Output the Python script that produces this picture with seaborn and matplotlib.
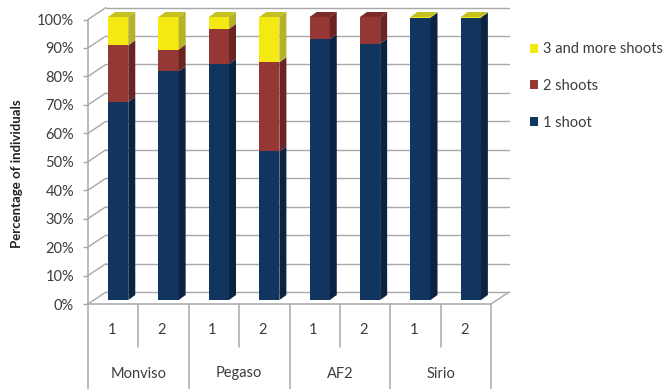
import matplotlib
matplotlib.use("Agg")
import matplotlib.pyplot as plt
from matplotlib.patches import Patch, Polygon
import numpy as np
import pandas as pd
import seaborn as sns

# Share of individuals per tillering class (percent)
varieties = ["Monviso", "Pegaso", "AF2", "Sirio"]
treatments = ["1", "2", "1", "2", "1", "2", "1", "2"]
one_shoot = [70.0, 80.8, 83.4, 52.5, 92.1, 90.6, 99.8, 99.8]
two_shoots = [20.0, 7.7, 12.4, 31.5, 7.9, 9.4, 0.0, 0.0]
three_more = [10.0, 11.5, 4.2, 16.0, 0.0, 0.0, 0.2, 0.2]
series_names = ["1 shoot", "2 shoots", "3 and more shoots"]

face = ["#12355f", "#953735", "#f4ea12"]
side = ["#0b2341", "#6a2423", "#b5b128"]
top = ["#0f2b4e", "#7a2b2a", "#c4c020"]
GRID = "#a8a8a8"
TEXT = "#3c3c3c"

W, H = 663, 389
sns.set_theme(style="white")
plt.rcParams["font.family"] = ["Lato", "DejaVu Sans"]

fig = plt.figure(figsize=(W / 100, H / 100), dpi=100)


def axes_rect(x0, y0, x1, y1):
    return [x0 / W, 1 - y1 / H, (x1 - x0) / W, (y1 - y0) / H]


# Front plane of the pseudo-3D chart box carries the axis and its ticks
wall = fig.add_axes(axes_rect(88, 19.5, 491, 304))
wall.set_xlim(-0.5, 7.5)
wall.set_ylim(0, 100)
wall.set_xticks([])
wall.set_yticks(np.arange(0, 101, 10))
wall.set_yticklabels([f"{v}%" for v in range(0, 101, 10)], fontsize=10.5, color=TEXT)
wall.tick_params(axis="y", length=3.6, width=1, color=GRID, pad=6.5, left=True)
for name in ("top", "right"):
    wall.spines[name].set_visible(False)
for name in ("left", "bottom"):
    wall.spines[name].set_color(GRID)
    wall.spines[name].set_linewidth(1.1)

# Depth of the box, converted from pixels to data units
x_unit = 403 / 8
y_unit = 284.5 / 100
box_dx, box_dy = 18 / x_unit, 12 / y_unit

for v in range(0, 101, 10):
    wall.plot([-0.5 + box_dx, 7.5 + box_dx], [v + box_dy] * 2, color=GRID, lw=1.0, clip_on=False, zorder=1)
    wall.plot([-0.5, -0.5 + box_dx], [v, v + box_dy], color=GRID, lw=1.0, clip_on=False, zorder=1)
wall.plot([7.5, 7.5 + box_dx], [0, box_dy], color=GRID, lw=1.0, clip_on=False, zorder=1)
wall.set_ylabel("")
fig.text(17 / W, 1 - 174 / H, "Percentage of individuals", rotation=90,
         ha="center", va="center", fontsize=9.5, fontweight="bold", color="#222222")

# Two-level category axis below the box
for i in range(9):
    x = -0.5 + i
    bottom_px = 389 if i % 2 == 0 else 347
    wall.plot([x, x], [0, -(bottom_px - 304) / y_unit], color=GRID, lw=1.1, clip_on=False)
for i, label in enumerate(treatments):
    wall.text(i - 1.5 / x_unit, -(330.5 - 304) / y_unit, label, ha="center", va="center", fontsize=10.5, color=TEXT)
for i, label in enumerate(varieties):
    wall.text(2 * i + 0.5, -(373.5 - 304) / y_unit, label, ha="center", va="center", fontsize=10.5, color=TEXT)

# Plane of the bars, set back from the front of the box
bars = fig.add_axes(axes_rect(93, 17, 496, 300))
bars.patch.set_alpha(0)
bars.set_axis_off()

frame = pd.DataFrame({
    "pos": [f"{i}" for i in range(8)],
    "one": one_shoot,
    "two": two_shoots,
    "three": three_more,
})
stack = np.column_stack([frame["one"], frame["two"], frame["three"]])
floors = np.hstack([np.zeros((8, 1)), np.cumsum(stack, axis=1)[:, :2]])
BAR_W = 0.4
for k, col in enumerate(["one", "two", "three"]):
    sns.barplot(data=frame, x="pos", y=col, bottom=floors[:, k], color=face[k],
                saturation=1, width=BAR_W, linewidth=0, ax=bars, zorder=3)
bars.set_xlim(-0.5, 7.5)
bars.set_ylim(0, 100)
bars.set_axis_off()

# Side and top faces of every bar
dx, dy = 7 / x_unit, 5 / 2.83
for i in range(8):
    right = i + BAR_W / 2
    left = i - BAR_W / 2
    for k in range(3):
        lo, hi = floors[i, k], floors[i, k] + stack[i, k]
        if stack[i, k] <= 0:
            continue
        bars.add_patch(Polygon([(right, lo), (right + dx, lo + dy), (right + dx, hi + dy), (right, hi)],
                               closed=True, fc=side[k], ec="none", clip_on=False, zorder=3))
    top_k = max(k for k in range(3) if stack[i, k] > 0)
    t = stack[i].sum()
    bars.add_patch(Polygon([(left, t), (right, t), (right + dx, t + dy), (left + dx, t + dy)],
                           closed=True, fc=top[top_k], ec="none", clip_on=False, zorder=3))

handles = [Patch(fc=face[k], ec="none", label=series_names[k]) for k in (2, 1, 0)]
fig.legend(handles=handles, loc="center left", bbox_to_anchor=(530 / W, 1 - 86 / H),
           frameon=False, fontsize=10.5, labelcolor=TEXT, handlelength=0.55, handleheight=0.55,
           handletextpad=0.35, labelspacing=1.55, borderpad=0, borderaxespad=0)

fig.savefig("out.png", dpi=100)
